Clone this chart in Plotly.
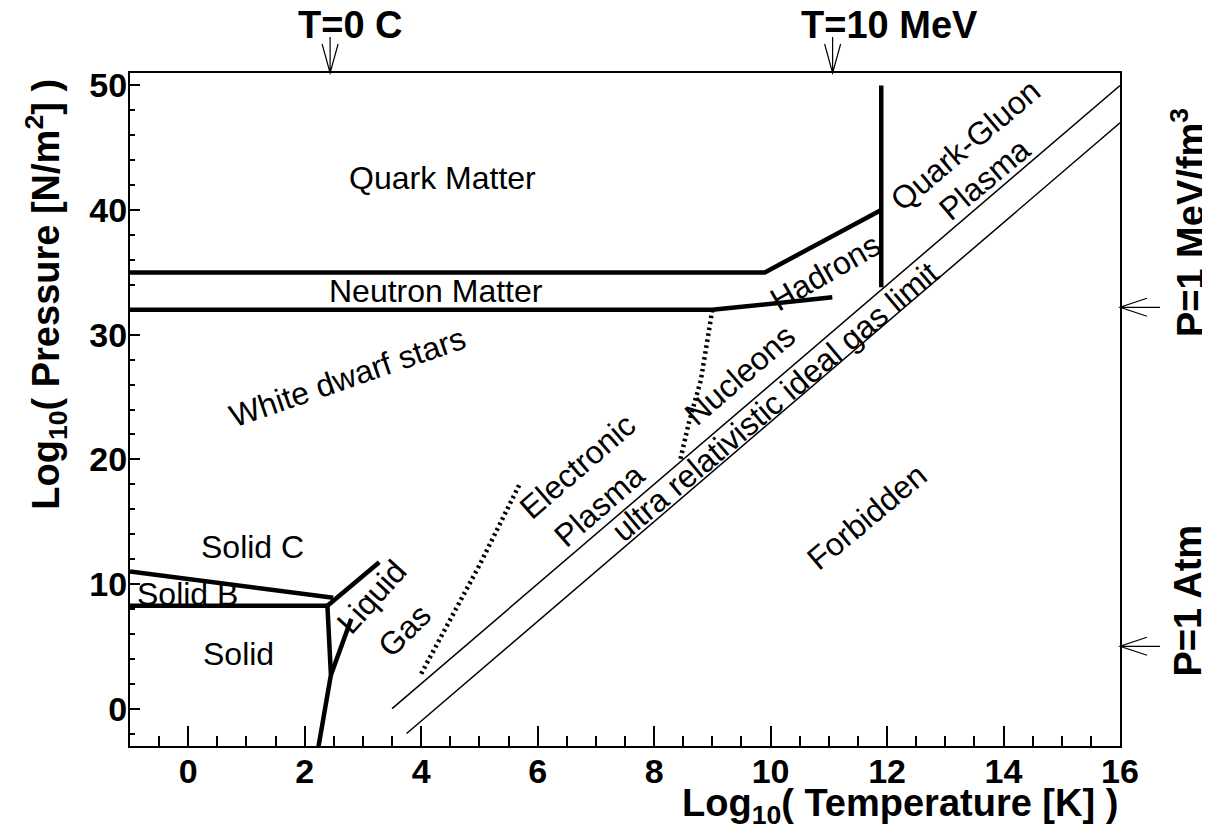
import plotly.graph_objects as go

# phase boundaries, log10(T [K]) vs log10(P [N/m^2])
quark_x = [-1, 9.9, 11.9]
quark_y = [35, 35, 40]
neutron_x = [-1, 9.0, 11.06]
neutron_y = [32, 32, 33]
qgp_x = [11.9, 11.9]
qgp_y = [33.8, 50]
solidC_x = [-1, 2.49]
solidC_y = [11.0, 8.9]
solidB_x = [-1, 2.39]
solidB_y = [8.25, 8.25]
melt_x = [2.39, 2.45, 2.22]
melt_y = [8.25, 2.7, -3.5]
liqgas_x = [2.45, 2.8]
liqgas_y = [2.7, 7.2]
liqsolid_x = [2.39, 3.28]
liqsolid_y = [8.25, 11.75]

# dotted ionisation / nucleon lines
ion_x = [4.0, 5.0, 5.7]
ion_y = [2.8, 11.5, 18.1]
nucl_x = [9.0, 8.8, 8.6, 8.45]
nucl_y = [32, 26.3, 23, 20]

# ultra relativistic ideal gas limit
ur1_x = [3.5, 16]
ur1_y = [0, 50]
ur2_x = [3.75, 16]
ur2_y = [-2, 47]

# region labels: text, x, y, angle
labels = [
    ("Quark Matter", 4.36, 42.6, 0),
    ("Neutron Matter", 4.25, 33.5, 0),
    ("White dwarf stars", 2.74, 26.6, -19),
    ("Solid C", 1.11, 13.0, 0),
    ("Solid B", -0.02, 9.2, 0),
    ("Solid", 0.87, 4.4, 0),
    ("Liquid", 3.15, 8.95, -48),
    ("Gas", 3.72, 6.3, -45),
    ("Electronic", 6.69, 19.5, -41),
    ("Plasma", 7.07, 16.3, -41),
    ("Nucleons", 9.47, 26.8, -41),
    ("Hadrons", 10.95, 35.0, -30),
    ("Quark-Gluon", 13.35, 45.2, -40),
    ("Plasma", 13.68, 42.5, -40),
    ("ultra relativistic ideal gas limit", 10.07, 24.6, -40),
    ("Forbidden", 11.65, 15.35, -40),
]

# reference marks outside the frame
top_marks = [("T=0 C", 2.436), ("T=10 MeV", 11.065)]
right_marks = [("P=1 MeV/fm<sup>3</sup>", 32.2), ("P=1 Atm", 5.0)]

xr = [-1, 16]
yr = [-3, 51]
FONT = "Liberation Sans, Arial, Helvetica, sans-serif"

fig = go.Figure()

def add_line(x, y, w=4.5, dash="solid"):
    fig.add_trace(go.Scatter(x=x, y=y, mode="lines", showlegend=False,
                             hoverinfo="skip",
                             line=dict(color="black", width=w, dash=dash)))

for xs, ys in [(quark_x, quark_y), (neutron_x, neutron_y), (qgp_x, qgp_y),
               (solidC_x, solidC_y), (solidB_x, solidB_y), (melt_x, melt_y),
               (liqgas_x, liqgas_y), (liqsolid_x, liqsolid_y)]:
    add_line(xs, ys)

add_line(ion_x, ion_y, 4.5, "2.5px,3.5px")
add_line(nucl_x, nucl_y, 4.5, "2.5px,3.5px")
add_line(ur1_x, ur1_y, 1.5)
add_line(ur2_x, ur2_y, 1.5)

annotations = []
for txt, x, y, a in labels:
    annotations.append(dict(x=x, y=y, xref="x", yref="y", text=txt, showarrow=False,
                            textangle=a, xanchor="center", yanchor="middle",
                            font=dict(family=FONT, size=32, color="black")))

shapes = []
for txt, v in top_marks:
    shapes.append(dict(type="path", xref="x", yref="paper", xsizemode="pixel",
                       ysizemode="pixel", xanchor=v, yanchor=1,
                       path="M0,0 L0,36 M-8,29 L0,0 L8,29",
                       line=dict(color="black", width=1.2)))
    annotations.append(dict(x=v, y=1.072, xref="x", yref="paper", text=txt,
                            showarrow=False, xanchor="left", yanchor="middle",
                            xshift=-34,
                            font=dict(family=FONT, size=38, color="black",
                                      weight="bold")))

for txt, v in right_marks:
    shapes.append(dict(type="path", xref="paper", yref="y", xsizemode="pixel",
                       ysizemode="pixel", xanchor=1, yanchor=v,
                       path="M0,0 L40,0 M27,9 L0,0 L27,-9",
                       line=dict(color="black", width=1.2)))
    annotations.append(dict(x=1.069, y=v, xref="paper", yref="y", text=txt,
                            showarrow=False, xanchor="center", yanchor="bottom",
                            yshift=-32, textangle=-90,
                            font=dict(family=FONT, size=38, color="black",
                                      weight="bold")))

# axis titles
annotations.append(dict(x=1, y=-0.05, xref="paper", yref="paper",
                        text="Log<sub>10</sub>( Temperature [K] )", showarrow=False,
                        xanchor="right", yanchor="top",
                        font=dict(family=FONT, size=38, color="black", weight="bold")))
annotations.append(dict(x=-0.085, y=0.995, xref="paper", yref="paper",
                        text="Log<sub>10</sub>( Pressure [N/m<sup>2</sup>] )",
                        showarrow=False, textangle=-90,
                        xanchor="center", yanchor="top",
                        font=dict(family=FONT, size=38, color="black", weight="bold")))

# page body keeps an 8px margin, so the figure is 8px smaller than the window
fig.update_layout(
    width=1202, height=820,
    margin=dict(l=122, r=90, t=65, b=82),
    paper_bgcolor="white", plot_bgcolor="white",
    showlegend=False,
    annotations=annotations, shapes=shapes,
    xaxis=dict(range=xr, tick0=0, dtick=2, ticks="inside", ticklen=20, tickwidth=1.5,
               minor=dict(ticks="inside", ticklen=10, dtick=0.5, tickwidth=1.5,
                          tickcolor="black"),
               tickcolor="black", showgrid=False, zeroline=False,
               showline=True, linecolor="black", linewidth=2, mirror=True,
               ticklabelstandoff=-6,
               tickfont=dict(family=FONT, size=34, color="black", weight="bold")),
    yaxis=dict(range=yr, tick0=0, dtick=10, ticks="inside", ticklen=10, tickwidth=1.5,
               minor=dict(ticks="inside", ticklen=5, dtick=2, tickwidth=1.5,
                          tickcolor="black"),
               tickcolor="black", showgrid=False, zeroline=False,
               showline=True, linecolor="black", linewidth=2, mirror=True,
               ticklabelstandoff=-6,
               tickfont=dict(family=FONT, size=34, color="black", weight="bold")),
)

fig.write_html("out.html")
